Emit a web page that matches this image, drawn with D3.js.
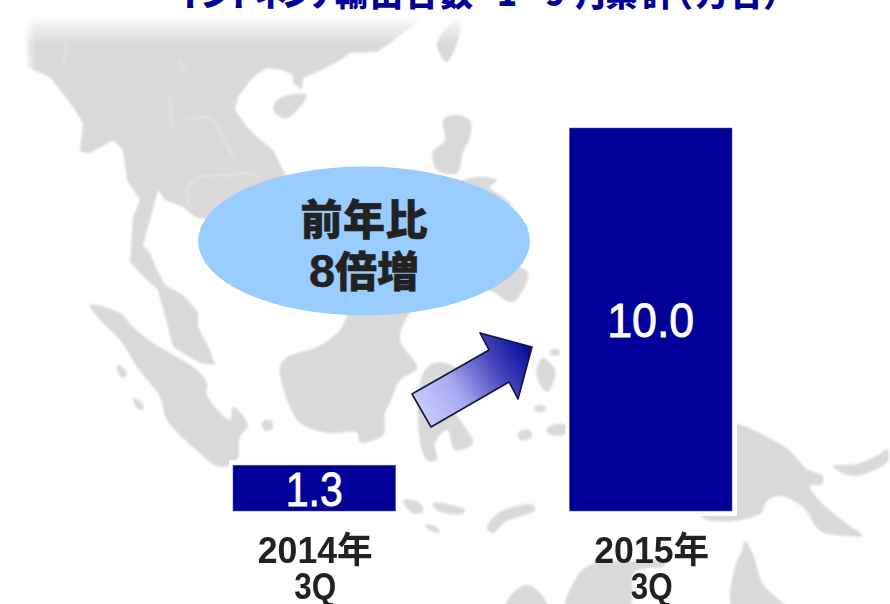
<!DOCTYPE html>
<html lang="ja"><head><meta charset="utf-8">
<script src="https://cdn.jsdelivr.net/npm/d3@7"></script>
<style>html,body{margin:0;padding:0;background:#fff;overflow:hidden}svg{display:block}</style>
</head><body><div id="c"></div>
<script>
// ---- chart data ----
const categories = ["2014年", "2015年"];
const quarters = ["3Q", "3Q"];
const values = [1.3, 10.0];
const valueLabels = ["1.3", "10.0"];
const titleText = "インドネシア輸出台数 1-9月累計（万台）";
const calloutTop = "前年比";
const calloutDigit = "8";
const calloutRest = "倍増";

// ---- decorative background map (page-space outlines) ----
const landShapes = [
 [[25,12],[417,12],[417,22],[390,43],[377,52],[350,53],[337,62],[317,72],[303,78],[302,90],[293,83],[293,75],[283,70],[267,68],[253,77],[238,97],[235,110],[247,127],[257,137],[273,150],[283,170],[300,200],[260,230],[195,217],[183,207],[165,200],[158,190],[150,220],[143,245],[150,253],[157,270],[165,285],[183,295],[198,312],[198,327],[210,350],[215,365],[200,363],[173,347],[167,323],[158,290],[142,275],[130,262],[133,217],[140,200],[127,180],[123,150],[113,140],[90,153],[80,152],[83,123],[73,107],[60,90],[50,77],[27,67]],
 [[273,107],[282,97],[307,95],[300,107],[287,118],[277,115]],
 [[437,43],[447,27],[460,20],[460,33],[447,62],[438,50]],
 [[443,120],[453,115],[470,120],[470,137],[463,153],[457,173],[437,170],[433,152],[445,140]],
 [[440,200],[470,178],[497,180],[490,187],[510,203],[520,240],[517,263],[528,273],[523,290],[512,302],[493,292],[450,270]],
 [[90,305],[120,313],[133,327],[153,343],[170,353],[197,370],[207,383],[207,395],[230,420],[233,407],[248,425],[240,437],[237,460],[220,467],[193,447],[167,420],[160,397],[137,367],[120,340],[100,320]],
 [[118,365],[127,373],[123,378],[117,370]],
 [[133,398],[142,403],[143,410],[137,408]],
 [[262,422],[270,420],[273,428],[265,431]],
 [[280,367],[287,357],[317,347],[340,330],[357,300],[420,300],[407,317],[400,340],[417,368],[400,380],[390,403],[385,413],[383,435],[360,442],[357,433],[327,433],[300,423],[290,407],[283,387]],
 [[418,423],[427,460],[437,460],[435,443],[447,430],[455,450],[473,443],[467,430],[458,417],[450,405],[440,385],[465,375],[440,362],[425,370]],
 [[537,367],[543,358],[555,370],[553,383],[547,392],[538,380]],
 [[551,350],[559,350],[559,355],[551,355]],
 [[535,406],[545,406],[545,411],[535,411]],
 [[518,433],[530,430],[532,437],[520,440]],
 [[548,427],[566,425],[566,434],[548,434]],
 [[403,500],[420,503],[423,512],[412,513]],
 [[433,503],[465,510],[462,514],[445,513],[433,507]],
 [[425,525],[435,526],[440,532],[430,531]],
 [[487,528],[500,512],[533,505],[535,510],[505,522],[493,533]],
 [[700,424],[737,424],[767,437],[790,451],[807,469],[823,476],[822,484],[810,486],[823,504],[847,524],[863,536],[850,536],[820,531],[803,507],[780,496],[767,501],[760,514],[700,516]],
 [[833,466],[857,464],[880,454],[887,449],[888,461],[870,472],[853,476],[840,472]],
 [[745,541],[753,554],[763,584],[787,610],[733,610],[735,567],[742,551]],
 [[566,610],[578,575],[590,565],[630,561],[665,562],[665,566],[635,572],[628,610]],
 [[505,610],[512,594],[527,585],[540,593],[548,610]]
];
const riverLines = [
 [[170,97],[172,130]],
 [[185,120],[210,118],[223,137],[233,157]],
 [[190,207],[188,187],[200,177],[233,175],[247,173],[260,177]],
 [[180,60],[185,73]],
 [[67,43],[63,65]]
];
const arrowShape = [[412,394],[489,350],[480,333],[532,347],[518,399],[509,382],[431,427]];
const titleCharX = [172,200,227,254,281,308,335,370,405,440,0,497,523,545,575,605,642,660,696,730,763];

const W = 890, H = 604;
const svg = d3.select("#c").append("svg").attr("width", W).attr("height", H);
const defs = svg.append("defs");
defs.append("filter").attr("id","soft").attr("filterUnits","userSpaceOnUse")
  .attr("x",0).attr("y",0).attr("width",W).attr("height",H)
  .append("feGaussianBlur").attr("stdDeviation",1.3);
defs.append("filter").attr("id","textSoft").attr("filterUnits","userSpaceOnUse")
  .attr("x",0).attr("y",0).attr("width",W).attr("height",H)
  .append("feGaussianBlur").attr("stdDeviation",0.35);
const fadeTop = defs.append("linearGradient").attr("id","fadeTop").attr("x1",0).attr("y1",0).attr("x2",0).attr("y2",1);
fadeTop.append("stop").attr("offset",0).attr("stop-color","#fff").attr("stop-opacity",1);
fadeTop.append("stop").attr("offset",1).attr("stop-color","#fff").attr("stop-opacity",0);
const fadeLeft = defs.append("linearGradient").attr("id","fadeLeft").attr("x1",0).attr("y1",0).attr("x2",1).attr("y2",0);
fadeLeft.append("stop").attr("offset",0).attr("stop-color","#fff").attr("stop-opacity",1);
fadeLeft.append("stop").attr("offset",1).attr("stop-color","#fff").attr("stop-opacity",0);
const ag = defs.append("linearGradient").attr("id","arrowGrad").attr("gradientUnits","userSpaceOnUse")
  .attr("x1",418).attr("y1",418).attr("x2",530).attr("y2",345);
[[0,"#ccd0ff"],[0.35,"#a8aaf0"],[0.7,"#4444bb"],[1,"#000b99"]].forEach(s=>ag.append("stop").attr("offset",s[0]).attr("stop-color",s[1]));

// map
const line = d3.line();
const landLine = d3.line().curve(d3.curveCatmullRomClosed.alpha(0.5));
const mapG = svg.append("g").attr("filter","url(#soft)");
mapG.selectAll("path.land").data(landShapes).join("path").attr("class","land")
  .attr("d", (d,i) => i===0 ? line(d)+"Z" : landLine(d)).attr("fill","#d9d9d9");
mapG.selectAll("path.river").data(riverLines).join("path").attr("class","river")
  .attr("d", d => d3.line().curve(d3.curveCatmullRom)(d)).attr("fill","none").attr("stroke","#e6e6e6").attr("stroke-width",1.8);
svg.append("rect").attr("x",0).attr("y",0).attr("width",W).attr("height",15).attr("fill","#fff");
svg.append("rect").attr("x",0).attr("y",15).attr("width",W).attr("height",29).attr("fill","url(#fadeTop)");
svg.append("rect").attr("x",0).attr("y",0).attr("width",22).attr("height",120).attr("fill","#fff");
svg.append("rect").attr("x",22).attr("y",0).attr("width",14).attr("height",120).attr("fill","url(#fadeLeft)");

// scales
const x = d3.scaleBand().domain(categories).range([233,732]).paddingInner(0.517);
const y = d3.scaleLinear().domain([0.119,10]).range([511,128]);

// bar halos + bars
const halo = 5;
svg.selectAll("rect.halo").data(values).join("rect").attr("class","halo")
  .attr("x",(d,i)=>x(categories[i])-halo+1).attr("y",d=>y(d)-halo)
  .attr("width",x.bandwidth()+2*halo-1).attr("height",d=>y.range()[0]-y(d)+2*halo).attr("fill","#fff");
svg.selectAll("rect.bar").data(values).join("rect").attr("class","bar")
  .attr("x",(d,i)=>x(categories[i])).attr("y",d=>y(d))
  .attr("width",x.bandwidth()).attr("height",d=>y.range()[0]-y(d))
  .attr("fill","#000099").attr("stroke","#4d4dc0").attr("stroke-width",0.5);

const latin = "'Liberation Sans','Noto Sans CJK JP',sans-serif";
const cjk = "'Noto Sans CJK JP','Noto Sans',sans-serif";
// value labels
svg.selectAll("text.val").data(values).join("text").attr("class","val")
  .attr("x",(d,i)=>x(categories[i])+x.bandwidth()/2)
  .attr("y",(d,i)=> i===0 ? (y(d)+y.range()[0])/2+18 : 337)
  .attr("text-anchor","middle").attr("fill","#fff")
  .attr("font-family",latin).attr("font-size",49)
  .attr("stroke","#fff").attr("stroke-width",0.9)
  .attr("textLength",(d,i)=> i===0 ? 57 : 87).attr("lengthAdjust","spacingAndGlyphs")
  .text((d,i)=>valueLabels[i]);

const textG = svg.append("g").attr("filter","url(#textSoft)");
// category labels
textG.selectAll("text.cat").data(categories).join("text").attr("class","cat")
  .attr("x",d=>x(d)+x.bandwidth()/2+1).attr("y",563).attr("text-anchor","middle")
  .attr("font-family",latin).attr("font-weight",700).attr("font-size",36).attr("fill","#222")
  .attr("textLength",115).attr("lengthAdjust","spacingAndGlyphs").text(d=>d);
textG.selectAll("text.q").data(quarters).join("text").attr("class","q")
  .attr("x",(d,i)=>x(categories[i])+x.bandwidth()/2+1).attr("y",599).attr("text-anchor","middle")
  .attr("font-family",latin).attr("font-weight",700).attr("font-size",36).attr("fill","#222")
  .attr("textLength",42).attr("lengthAdjust","spacingAndGlyphs").text(d=>d);

// callout
svg.append("ellipse").attr("cx",364).attr("cy",241).attr("rx",166).attr("ry",74.5).attr("fill","#99ccff");
const callStyle = s => s.attr("x",364).attr("text-anchor","middle")
  .attr("font-family",latin).attr("font-weight",900).attr("font-size",42).attr("fill","#222")
  .attr("stroke","#222").attr("stroke-width",0.5);
svg.append("text").call(callStyle).attr("y",235).attr("textLength",127).text(calloutTop);
const second = svg.append("text").call(callStyle).attr("y",287);
second.append("tspan").attr("font-size",47).text(calloutDigit);
second.append("tspan").text(calloutRest);

// arrow
svg.append("path").attr("d",line(arrowShape)+"Z").attr("fill","url(#arrowGrad)")
  .attr("stroke","#14143c").attr("stroke-width",1.6).attr("stroke-linejoin","round");

// title (cropped by the page top, as in the reference)
svg.append("text").attr("y",6).attr("x",titleCharX.join(" "))
  .attr("font-family",cjk).attr("font-weight",900).attr("font-size",33).attr("fill","#000099")
  .text(titleText);
</script></body></html>
